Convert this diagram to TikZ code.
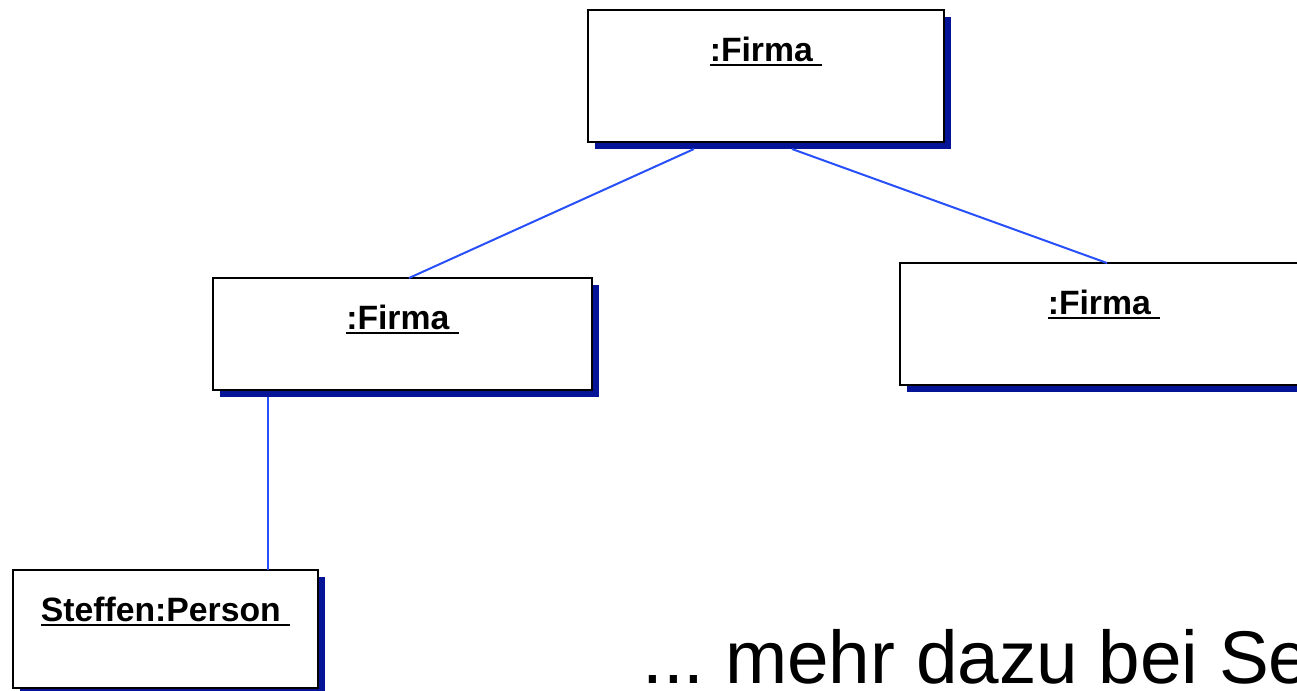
\documentclass[tikz,border=0pt]{standalone}
\usepackage{fontspec}
\setmainfont{Liberation Sans}
\usetikzlibrary{shadows}

\definecolor{shadowblue}{RGB}{5,20,150}
\definecolor{linkblue}{RGB}{40,80,250}

% object name, underlined with the trailing space
\newcommand{\objul}[1]{\setbox0=\hbox{#1\ }\rlap{\vrule width\wd0 height -2.3pt depth 3.8pt}\box0}

\tikzset{
  obj/.style={draw, line width=2pt, fill=white, inner sep=0pt, outer sep=0pt,
    drop shadow={shadow xshift=5.6pt, shadow yshift=-5.6pt, fill=shadowblue, opacity=1},
    label={[anchor=base, label distance=0pt, yshift=-38.25pt,
      font=\bfseries\fontsize{25.3}{30}\selectfont]north:\objul{#1}}},
  link/.style={draw=linkblue, line width=1.5pt}
}

\begin{document}
\frenchspacing
\begin{tikzpicture}[x=0.75pt, y=-0.75pt]
            \useasboundingbox (0,0) rectangle (1297,690);
            \clip (0,0) rectangle (1297,690);

            % objects
            \node [obj={:Firma}, minimum width=267pt, minimum height=99pt] (firmaTop) at (766,76) {};
            \node [obj={:Firma}, minimum width=284.25pt, minimum height=84pt] (firmaLeft) at (402.5,334) {};
            \node [obj={:Firma}, minimum width=306pt, minimum height=91.5pt] (firmaRight) at (1104,324) {};
            \node [obj={Steffen:Person}, minimum width=228.75pt, minimum height=88.5pt] (steffen) at (165.5,629) {};

            % links
            \draw [link] ([xshift=-54pt,yshift=-5.25pt]firmaTop.south) -- ([xshift=4.9pt]firmaLeft.north);
            \draw [link] ([xshift=19.5pt,yshift=-5.25pt]firmaTop.south) -- ([xshift=2.25pt]firmaRight.north);
            \draw [link] ([xshift=-100.9pt,yshift=-5.25pt]firmaLeft.south) -- ([xshift=-100.9pt]firmaLeft.south |- steffen.north);

            \node [anchor=base west, inner sep=0pt, font=\fontsize{56}{60}\selectfont] (more) at (642,683) {... mehr dazu bei Se};
\end{tikzpicture}
\end{document}
